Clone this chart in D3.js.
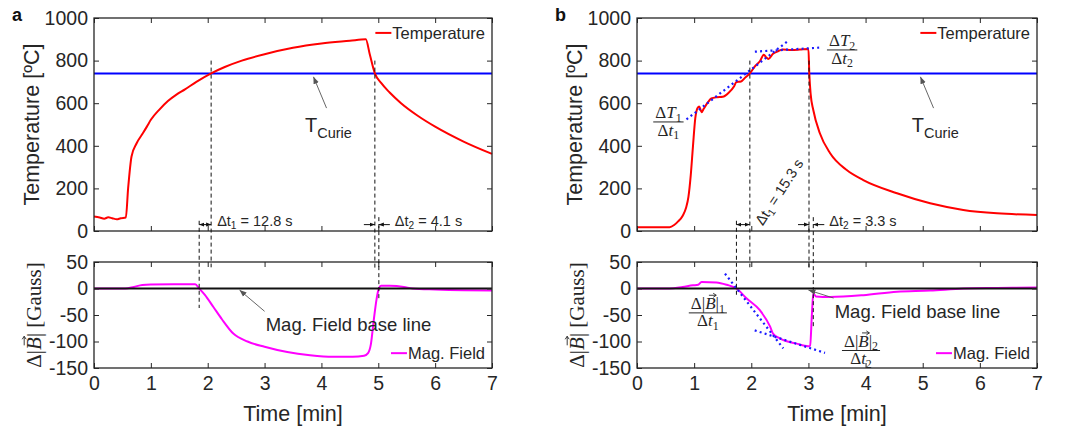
<!DOCTYPE html>
<html>
<head>
<meta charset="utf-8">
<script src="https://cdn.jsdelivr.net/npm/d3@7"></script>
<style>
body { margin: 0; background: #fff; }
svg { display: block; font-family: Arial, "Liberation Sans", Helvetica, sans-serif; }
</style>
</head>
<body>
<svg id="chart" width="1069" height="431"></svg>
<script>
// values: [time in min, value]
var tempA = [[0,68],[0.1,63],[0.18,58],[0.25,64],[0.32,60],[0.4,55],[0.47,60],[0.56,63],[0.6,200],[0.66,350],[0.75,412],[0.85,455],[0.93,490],[1.0,522],[1.15,570],[1.3,610],[1.45,640],[1.6,665],[1.8,700],[2.06,740],[2.3,770],[2.6,800],[3.0,830],[3.5,860],[4.0,880],[4.5,893],[4.78,900],[4.85,830],[4.94,740],[5.05,695],[5.2,650],[5.4,600],[5.7,540],[6.0,490],[6.5,420],[7.0,362]];
var magA = [[0,0],[0.55,0],[0.7,3],[0.85,6.5],[1.0,7.5],[1.4,8],[1.78,8],[1.85,0],[1.95,-12],[2.1,-35],[2.25,-58],[2.45,-85],[2.7,-100],[3.0,-110],[3.4,-120],[3.8,-126],[4.2,-129],[4.55,-129],[4.75,-127],[4.82,-122],[4.87,-105],[4.92,-60],[4.97,-20],[5.01,0],[5.05,5],[5.2,5],[5.45,3],[5.6,0],[6.0,-2],[6.5,-3.5],[7.0,-4]];
var tempB = [[0,18],[0.57,18],[0.65,28],[0.72,45],[0.8,72],[0.86,110],[0.9,160],[0.94,260],[0.98,400],[1.02,530],[1.06,578],[1.09,585],[1.13,558],[1.17,575],[1.23,600],[1.3,622],[1.4,628],[1.5,630],[1.6,648],[1.7,680],[1.74,700],[1.82,702],[1.9,722],[1.975,740],[2.06,772],[2.15,797],[2.22,828],[2.26,815],[2.3,808],[2.38,832],[2.45,842],[2.55,852],[2.7,850],[2.85,852],[3.0,855],[3.015,740],[3.04,640],[3.085,568],[3.2,459],[3.38,365],[3.67,286],[3.96,239],[4.55,177],[5.13,130],[5.71,99],[6.3,83],[7.0,75]];
var magB = [[0,0],[0.57,0],[0.8,3],[0.98,6],[1.07,7],[1.13,12.5],[1.39,11.5],[1.57,7],[1.74,0],[1.92,-19],[2.15,-41],[2.33,-72],[2.38,-85],[2.5,-94],[2.79,-104],[3.0,-109],[3.03,-108],[3.06,-50],[3.085,-9],[3.13,-15],[3.38,-16],[3.96,-12.6],[4.55,-6],[5.13,-4],[5.71,0],[6.3,1],[7.0,2]];

// dotted tangent fits in panel b
var tanTempB = [[[0.866,524],[2.646,893]], [[2.063,842],[3.2,861]]];
var tanMagB = [[[1.54,28],[2.56,-113]], [[2.06,-79],[3.29,-121.5]]];

var timeTicks = [0,1,2,3,4,5,6,7];
var tempTicks = [0,200,400,600,800,1000];
var magTicks = [-150,-100,-50,0,50];
var tCurie = 740;

// crossing times: temperature through T_Curie and field through base line
var crossA = { temp: [2.06, 4.94], mag: [1.85, 5.01], dt: ["12.8", "4.1"] };
var crossB = { temp: [1.975, 3.01], mag: [1.74, 3.085], dt: ["15.3", "3.3"] };

var ink = "#262626";
var svg = d3.select("#chart");
var defs = svg.append("defs");

function marker(id, size, color) {
  defs.append("marker").attr("id", id)
    .attr("viewBox", "0 0 10 10").attr("refX", 10).attr("refY", 5)
    .attr("markerWidth", size).attr("markerHeight", size)
    .attr("markerUnits", "userSpaceOnUse")
    .attr("orient", "auto-start-reverse")
    .append("path").attr("d", "M0,1L10,5L0,9z").attr("fill", color);
}
marker("head", 5, "#111");
marker("lead", 7, "#555");

var line = d3.line().curve(d3.curveMonotoneX);
var plain = function(d) { return String(d); };   // matlab style: 1000, -50
var blank = function() { return ""; };

// rich text: parts are [text, flags] with i = italic, s = subscript
function rich(sel, parts, fs) {
  var down = 0;
  parts.forEach(function(pt) {
    var ts = sel.append("tspan").text(pt[0]);
    if (pt[1].indexOf("i") >= 0) ts.attr("font-style", "italic");
    if (pt[1].indexOf("s") >= 0) {
      ts.attr("font-size", fs * 0.7).attr("dy", fs * 0.22);
      down = fs * 0.22;
    } else if (down) {
      ts.attr("dy", -down);
      down = 0;
    }
  });
}

// little vector arrow over one glyph
function vec(g, textSel, idx, fs) {
  var n = textSel.node();
  var s = n.getStartPositionOfChar(idx), e = n.getEndPositionOfChar(idx);
  var y = s.y - fs * 0.8;
  var x0 = s.x + fs * 0.22, x1 = e.x + fs * 0.04;
  g.append("path")
    .attr("d", "M" + x0 + "," + y + "L" + x1 + "," + y + "M" + (x1 - 3) + "," + (y - 2) + "L" + x1 + "," + y + "L" + (x1 - 3) + "," + (y + 2))
    .attr("fill", "none").attr("stroke", ink).attr("stroke-width", 0.9);
}

function frac(g, cx, cy, num, den, fs, vecIdx) {
  var f = g.append("g").attr("font-family", "'Liberation Serif', 'DejaVu Serif', serif")
    .attr("font-size", fs).attr("fill", ink).attr("text-anchor", "middle");
  var nt = f.append("text").attr("x", cx).attr("y", cy - 4);
  rich(nt, num, fs);
  var dt = f.append("text").attr("x", cx).attr("y", cy + fs * 0.8);
  rich(dt, den, fs);
  var w = Math.max(nt.node().getComputedTextLength(), dt.node().getComputedTextLength()) + 4;
  f.append("line").attr("x1", cx - w / 2).attr("x2", cx + w / 2)
    .attr("y1", cy).attr("y2", cy).attr("stroke", ink).attr("stroke-width", 1);
  if (vecIdx != null) vec(f, nt, vecIdx, fs);
}

function frame(g, x, y, yticks, showX) {
  var x0 = x.range()[0], x1 = x.range()[1];
  var y0 = y.range()[0], y1 = y.range()[1];
  var axes = [
    g.append("g").attr("transform", "translate(" + x0 + ",0)")
      .call(d3.axisLeft(y).tickValues(yticks).tickSizeInner(-5).tickSizeOuter(0).tickPadding(6).tickFormat(plain)),
    g.append("g").attr("transform", "translate(" + x1 + ",0)")
      .call(d3.axisRight(y).tickValues(yticks).tickSizeInner(-5).tickSizeOuter(0).tickFormat(blank)),
    g.append("g").attr("transform", "translate(0," + y1 + ")")
      .call(d3.axisTop(x).tickValues(timeTicks).tickSizeInner(-5).tickSizeOuter(0).tickFormat(blank)),
    g.append("g").attr("transform", "translate(0," + y0 + ")")
      .call(d3.axisBottom(x).tickValues(timeTicks).tickSizeInner(-5).tickSizeOuter(0).tickPadding(8)
        .tickFormat(showX ? plain : blank))
  ];
  axes.forEach(function(a) {
    a.attr("font-family", null).attr("font-size", null);
    a.select(".domain").remove();
    a.selectAll("line").attr("stroke", ink).attr("stroke-width", 1);
    a.selectAll("text").attr("fill", ink).style("font-size", "19.5px");
  });
  g.append("rect").attr("x", x0).attr("y", y1).attr("width", x1 - x0).attr("height", y0 - y1)
    .attr("fill", "none").attr("stroke", ink).attr("stroke-width", 1.3);
}

function legend(g, right, yLine, label, color) {
  var t = g.append("text").attr("x", right - 7).attr("y", yLine + 6)
    .attr("text-anchor", "end").attr("font-size", 16.5).attr("fill", ink).text(label);
  var start = right - 7 - t.node().getComputedTextLength();
  g.append("line").attr("x1", start - 17).attr("x2", start - 1)
    .attr("y1", yLine).attr("y2", yLine).attr("stroke", color).attr("stroke-width", 2);
}

function drawPanel(p) {
  var x = d3.scaleLinear().domain([0, 7]).range([p.left, p.right]);
  var yT = d3.scaleLinear().domain([0, 1000]).range([231, 18]);
  var yM = d3.scaleLinear().domain([-150, 50]).range([368, 262]);
  var g = svg.append("g");

  g.append("text").attr("x", p.left - 82).attr("y", 21).attr("font-weight", "bold")
    .attr("font-size", 18).attr("fill", "#111").text(p.letter);

  // temperature subplot
  g.append("line").attr("x1", x(0)).attr("x2", x(7)).attr("y1", yT(tCurie)).attr("y2", yT(tCurie))
    .attr("stroke", "#0000ff").attr("stroke-width", 2);
  g.append("path").attr("d", line(p.temp.map(function(d) { return [x(d[0]), yT(d[1])]; })))
    .attr("fill", "none").attr("stroke", "#ff0000").attr("stroke-width", 2);

  // field subplot
  g.append("path").attr("d", line(p.mag.map(function(d) { return [x(d[0]), yM(d[1])]; })))
    .attr("fill", "none").attr("stroke", "#ff00ff").attr("stroke-width", 2);
  g.append("line").attr("x1", x(0)).attr("x2", x(7)).attr("y1", yM(0)).attr("y2", yM(0))
    .attr("stroke", "#111").attr("stroke-width", 2);

  if (p.tanT) {
    p.tanT.forEach(function(s) {
      g.append("line").attr("x1", x(s[0][0])).attr("y1", yT(s[0][1])).attr("x2", x(s[1][0])).attr("y2", yT(s[1][1]))
        .attr("stroke", "#1a1aff").attr("stroke-width", 2.2).attr("stroke-dasharray", "2,3.2");
    });
    p.tanM.forEach(function(s) {
      g.append("line").attr("x1", x(s[0][0])).attr("y1", yM(s[0][1])).attr("x2", x(s[1][0])).attr("y2", yM(s[1][1]))
        .attr("stroke", "#1a1aff").attr("stroke-width", 2.2).attr("stroke-dasharray", "2,3.2");
    });
  }

  frame(g, x, yT, tempTicks, false);
  frame(g, x, yM, magTicks, true);

  // dashed markers of the crossings
  var c = p.cross;
  var dashes = [
    [c.temp[0], yT(800), yM(40)], [c.mag[0], yT(48), p.magEnd[0]],
    [c.temp[1], yT(800), yM(35)], [c.mag[1], yT(65), p.magEnd[1]]
  ];
  dashes.forEach(function(d) {
    g.append("line").attr("x1", x(d[0])).attr("x2", x(d[0])).attr("y1", d[1]).attr("y2", d[2])
      .attr("stroke", "#111").attr("stroke-width", 1).attr("stroke-dasharray", "4,3");
  });
  var ya = yT(30);
  g.append("line").attr("x1", x(c.mag[0])).attr("x2", x(c.temp[0])).attr("y1", ya).attr("y2", ya)
    .attr("stroke", "#111").attr("stroke-width", 1)
    .attr("marker-start", "url(#head)").attr("marker-end", "url(#head)");
  var lo = Math.min(c.temp[1], c.mag[1]), hi = Math.max(c.temp[1], c.mag[1]);
  g.append("line").attr("x1", x(lo) - 11).attr("x2", x(lo)).attr("y1", ya).attr("y2", ya)
    .attr("stroke", "#111").attr("stroke-width", 1).attr("marker-end", "url(#head)");
  g.append("line").attr("x1", x(hi) + 11).attr("x2", x(hi)).attr("y1", ya).attr("y2", ya)
    .attr("stroke", "#111").attr("stroke-width", 1).attr("marker-end", "url(#head)");

  var t1 = g.append("text").attr("font-size", 14.5).attr("fill", ink);
  if (p.rotDt) {
    t1.attr("transform", "translate(" + (x(c.temp[0]) + 13) + "," + yT(22) + ") rotate(-57)");
  } else {
    t1.attr("x", x(c.temp[0]) + 6).attr("y", yT(24));
  }
  rich(t1, [["Δt", ""], ["1", "s"], [" = " + c.dt[0] + " s", ""]], 14.5);
  var t2 = g.append("text").attr("x", x(hi) + 16).attr("y", yT(24)).attr("font-size", 14.5).attr("fill", ink);
  rich(t2, [["Δt", ""], ["2", "s"], [" = " + c.dt[1] + " s", ""]], 14.5);

  // T_Curie label and leader
  var tc = g.append("text").attr("x", x(p.curieT)).attr("y", yT(465)).attr("font-size", 20).attr("fill", ink);
  tc.append("tspan").text("T");
  tc.append("tspan").attr("font-size", 14.5).attr("dy", 6).text("Curie");
  g.append("line").attr("x1", x(p.curieT + 0.38)).attr("y1", yT(577)).attr("x2", x(p.curieT + 0.15)).attr("y2", yT(724))
    .attr("stroke", "#555").attr("stroke-width", 0.9).attr("marker-end", "url(#lead)");

  // base line label and leader
  g.append("text").attr("x", x(p.baseT)).attr("y", yM(p.baseV)).attr("font-size", 18.5).attr("fill", ink)
    .text("Mag. Field base line");
  g.append("line").attr("x1", x(p.baseT - 0.02)).attr("y1", yM(p.baseV + 38)).attr("x2", x(p.baseT - 0.46)).attr("y2", yM(-3))
    .attr("stroke", "#555").attr("stroke-width", 0.9).attr("marker-end", "url(#lead)");

  legend(g, p.right, yT(930), "Temperature", "#ff0000");
  legend(g, p.right, yM(-122), "Mag. Field", "#ff00ff");

  // axis titles
  g.append("text").attr("transform", "translate(" + (p.left - 55) + "," + (yT(500)) + ") rotate(-90)")
    .attr("text-anchor", "middle").attr("font-size", 21.5).attr("fill", ink).text("Temperature [ºC]");
  var bl = g.append("g").attr("transform", "translate(" + (p.left - 53) + "," + yM(-50) + ") rotate(-90)");
  var bt = bl.append("text").attr("text-anchor", "middle").attr("font-size", 21)
    .attr("font-family", "'Liberation Serif', 'DejaVu Serif', serif").attr("fill", ink);
  rich(bt, [["Δ|", ""], ["B", "i"], ["| [Gauss]", ""]], 21);
  vec(bl, bt, 2, 21);
  g.append("text").attr("x", (p.left + p.right) / 2).attr("y", 421).attr("text-anchor", "middle")
    .attr("font-size", 21.5).attr("fill", ink).text("Time [min]");

  if (p.tanT) {
    frac(g, x(0.55), yT(512), [["Δ", ""], ["T", "i"], ["1", "s"]], [["Δ", ""], ["t", "i"], ["1", "s"]], 17);
    frac(g, x(3.59), yT(850), [["Δ", ""], ["T", "i"], ["2", "s"]], [["Δ", ""], ["t", "i"], ["2", "s"]], 17);
    frac(g, x(1.24), yM(-46), [["Δ|", ""], ["B", "i"], ["|", ""], ["1", "s"]], [["Δ", ""], ["t", "i"], ["1", "s"]], 17, 2);
    frac(g, x(3.92), yM(-117), [["Δ|", ""], ["B", "i"], ["|", ""], ["2", "s"]], [["Δ", ""], ["t", "i"], ["2", "s"]], 17, 2);
  }
}

drawPanel({ letter: "a", left: 94, right: 492, temp: tempA, mag: magA, cross: crossA,
  magEnd: [308, 300], curieT: 3.71, baseT: 3.02, baseV: -81, rotDt: false });
drawPanel({ letter: "b", left: 637, right: 1037, temp: tempB, mag: magB, cross: crossB,
  magEnd: [297, 327], curieT: 4.81, baseT: 3.46, baseV: -56, rotDt: true,
  tanT: tanTempB, tanM: tanMagB });
</script>
</body>
</html>
